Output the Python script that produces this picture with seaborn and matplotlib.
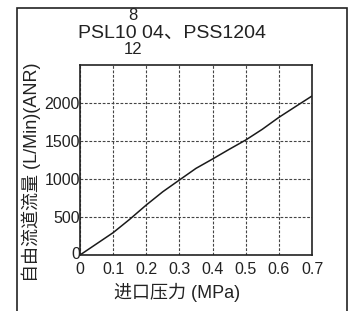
import pandas as pd
import matplotlib
matplotlib.use('Agg')
import matplotlib.pyplot as plt
import matplotlib.transforms as mtransforms
import seaborn as sns
from matplotlib.patches import Rectangle

# data
PRESSURE = [0.0, 0.05, 0.1, 0.15, 0.2, 0.25, 0.3, 0.35, 0.4, 0.45, 0.5, 0.55, 0.6, 0.65, 0.7]
FLOW = [0, 147, 294, 470, 658, 833, 987, 1140, 1263, 1390, 1513, 1654, 1811, 1952, 2092]
X_TICKS = [0, 0.1, 0.2, 0.3, 0.4, 0.5, 0.6, 0.7]
X_TICK_LABELS = ['0', '0.1', '0.2', '0.3', '0.4', '0.5', '0.6', '0.7']
Y_TICKS = [0, 500, 1000, 1500, 2000]

TITLE = 'PSL10 04、PSS1204'
X_LABEL = '进口压力 (MPa)'
Y_LABEL = '自由流道流量 (L/Min)(ANR)'

TEXT_COLOR = '#222222'

sns.set_style('white')
plt.rcParams['font.family'] = ['Liberation Sans', 'Noto Sans CJK SC', 'DejaVu Sans']

W, H = 352, 311
fig = plt.figure(figsize=(W / 100, H / 100), dpi=100)
ax = fig.add_axes([80 / W, 1 - 255 / H, 232 / W, 190 / H])

df = pd.DataFrame({'pressure': PRESSURE, 'flow': FLOW})
sns.lineplot(x='pressure', y='flow', data=df, color='#1a1a1a', linewidth=1.1, ax=ax)

ax.set_xlim(0, 0.7)
ax.set_ylim(0, 2500)
ax.set_xticks(X_TICKS)
ax.set_xticklabels(X_TICK_LABELS)
ax.set_yticks(Y_TICKS)
ax.tick_params(length=0, labelsize=11.5, colors=TEXT_COLOR)
ax.tick_params(axis='x', pad=5)
ax.tick_params(axis='y', pad=0)
ax.grid(True, linestyle=(0, (2.5, 1.5)), color='#444444', linewidth=0.8)
for s in ax.spines.values():
  s.set_color(TEXT_COLOR)
  s.set_linewidth(1.2)
ax.set_xlabel('')
ax.set_ylabel('')

# nudge the y "0" up a little so it sits clear of the x "0"
lbl = ax.get_yticklabels()[0]
lbl.set_transform(lbl.get_transform() + mtransforms.ScaledTranslation(0, 2 / 100, fig.dpi_scale_trans))

# labels
fig.text(177 / W, 1 - 292 / H, X_LABEL, ha='center', va='center', fontsize=13, color=TEXT_COLOR)
fig.text(31 / W, 1 - 172 / H, Y_LABEL, ha='center', va='center', rotation=90, fontsize=13, color=TEXT_COLOR)

# title with stacked sizes
fig.text(172 / W, 1 - 33 / H, TITLE, ha='center', va='center', fontsize=14, color=TEXT_COLOR)
fig.text(133 / W, 1 - 15 / H, '8', ha='center', va='center', fontsize=12, color=TEXT_COLOR)
fig.text(133 / W, 1 - 49 / H, '12', ha='center', va='center', fontsize=12, color=TEXT_COLOR)

# outer frame, open at the bottom
fig.patches.append(Rectangle((17 / W, -0.1), 330 / W, 1.1 - 8 / H, transform=fig.transFigure,
                             fill=False, edgecolor=TEXT_COLOR, linewidth=1.2))

fig.savefig('out.png', dpi=100)
